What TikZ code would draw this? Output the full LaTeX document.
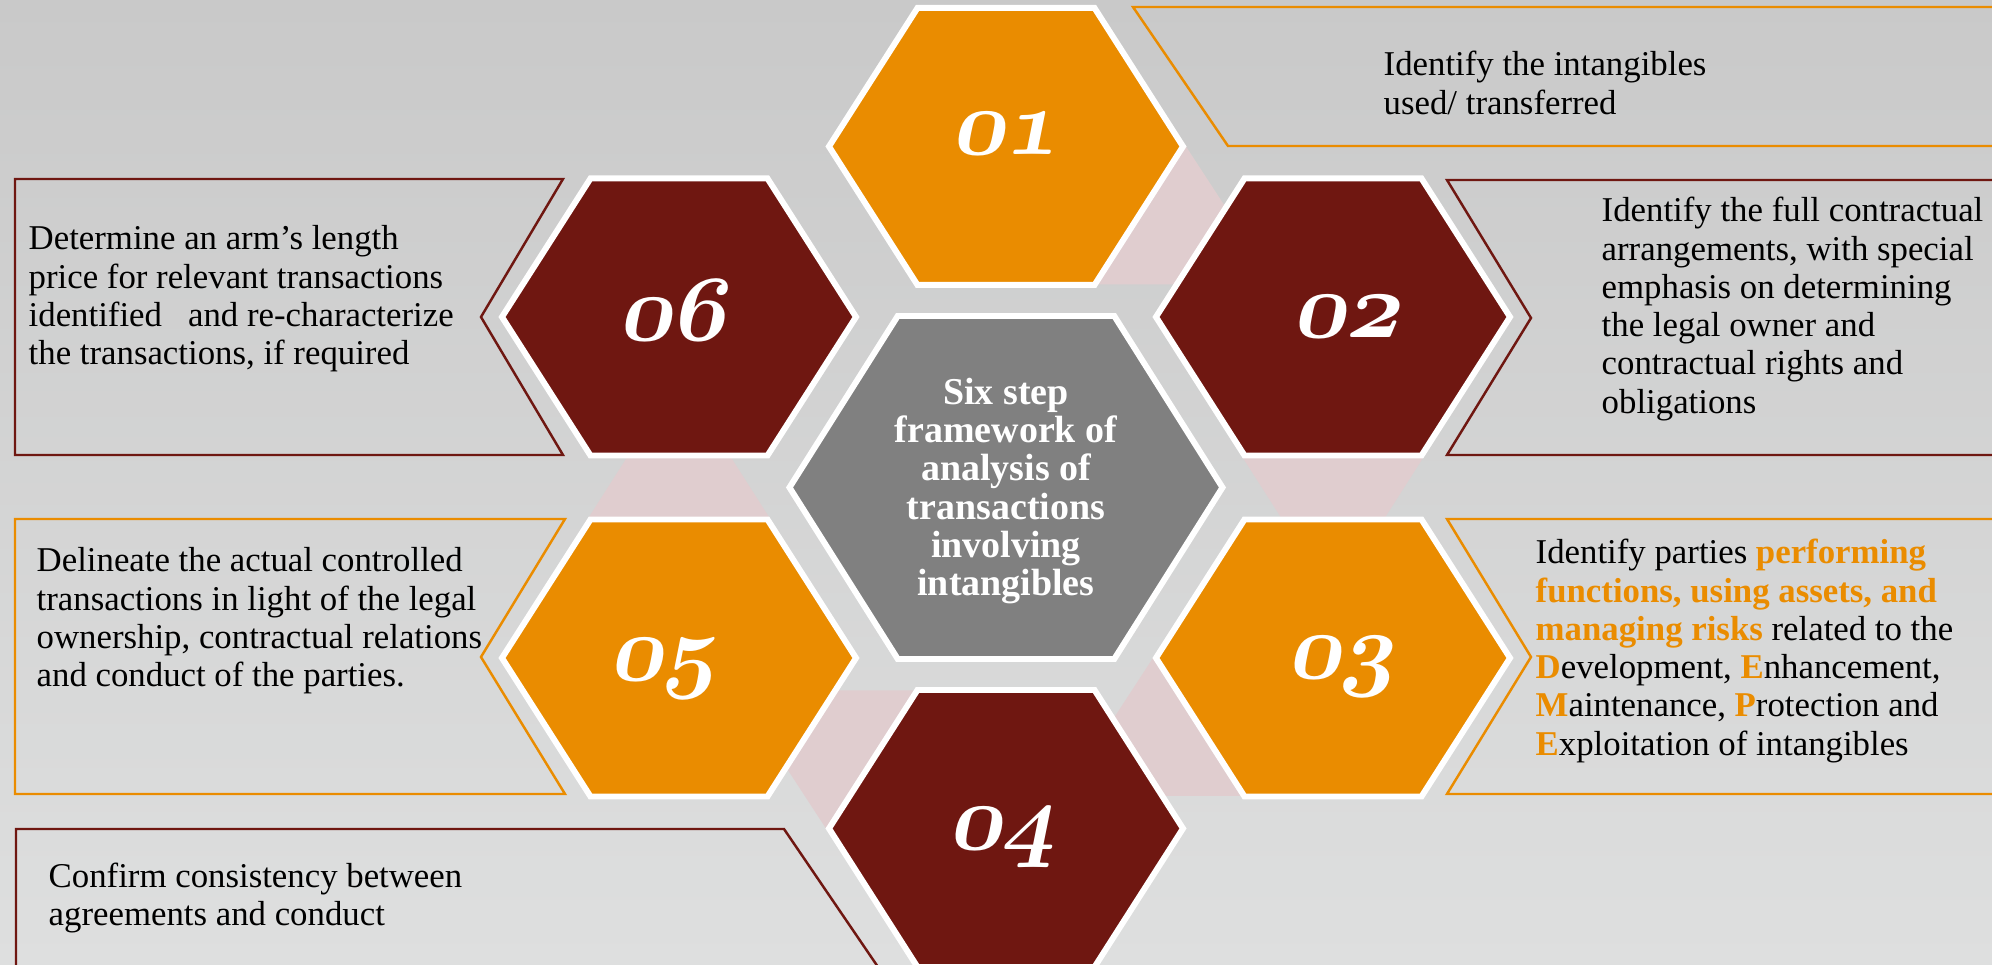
\documentclass[tikz,border=0pt]{standalone}
\usepackage{fontspec}
\setmainfont{Liberation Serif}
\usepackage{tikz}
\usetikzlibrary{arrows.meta}
\definecolor{hexorange}{RGB}{234,140,0}
\definecolor{hexred}{RGB}{111,23,17}
\definecolor{hexgray}{RGB}{128,128,128}
\definecolor{linkpink}{RGB}{224,205,207}
\definecolor{bgtop}{RGB}{201,201,201}
\definecolor{bgbottom}{RGB}{222,223,223}
\tikzset{
  hexcell/.style={draw=white, line width=1.7pt},
  hexnum/.style={text=white, inner sep=0pt, text height=0.39cm, text depth=0pt, xslant=0.2, scale=1.07,
    font={\fontsize{24.88}{26}\usefont{OML}{cmm}{b}{it}}},
  callout/.style={line width=0.7pt},
  calltext/.style={anchor=west, align=left, inner sep=0pt, font={\fontsize{9.9}{10.9}\selectfont}},
}

\begin{document}
\begin{tikzpicture}

  \newcommand\X{3.27cm};
  \newcommand\Y{1.705cm};
  \newcommand\cellw{1.77cm};
  \newcommand\cellh{1.385cm};
  \newcommand\hexpath[3]{(#1) ++(-#2,0) -- ++(0.5*#2,#3) -- ++(#2,0) -- ++(0.5*#2,-#3) -- ++(-0.5*#2,-#3) -- ++(-#2,0) -- cycle}
  \newcommand\hot[1]{\textcolor{hexorange}{\textbf{#1}}}

  \useasboundingbox (-10.06,-4.775) rectangle (9.86,4.875);
  \fill[top color=bgtop, bottom color=bgbottom] (-10.06,-4.775) rectangle (9.86,4.875);
  \clip (-10.06,-4.775) rectangle (9.86,4.875);

  \coordinate (c0) at (0, 0);
  \coordinate (c1) at (0, 2*\Y);
  \coordinate (c2) at (\X, \Y);
  \coordinate (c3) at (\X, -\Y);
  \coordinate (c4) at (0, -2*\Y);
  \coordinate (c5) at (-\X, -\Y);
  \coordinate (c6) at (-\X, \Y);

  %% pink links behind the cells
  \fill[linkpink] (c1) ++(1.8,0) -- ++(0.9,-1.38) -- ++(-1.8,0) -- cycle; % 1->2
  \fill[linkpink] (c2) ++(-0.9,-1.41) -- ++(1.8,0) -- ++(-0.9,-1.41) -- cycle; % 2->3
  \fill[linkpink] (c3) ++(-1.8,0) -- ++(0.9,-1.38) -- ++(-1.8,0) -- cycle; % 3->4
  \fill[linkpink] (c4) ++(-1.8,0) -- ++(0.9,1.38) -- ++(-1.8,0) -- cycle; % 4->5
  \fill[linkpink] (c5) ++(-0.9,1.41) -- ++(1.8,0) -- ++(-0.9,1.41) -- cycle; % 5->6

  %% cells
  \draw[hexcell, fill=hexgray] \hexpath{c0}{2.165cm}{1.715cm};
  \draw[hexcell, fill=hexorange] \hexpath{c1}{\cellw}{\cellh};
  \draw[hexcell, fill=hexred] \hexpath{c2}{\cellw}{\cellh};
  \draw[hexcell, fill=hexorange] \hexpath{c3}{\cellw}{\cellh};
  \draw[hexcell, fill=hexred] \hexpath{c4}{\cellw}{\cellh};
  \draw[hexcell, fill=hexorange] \hexpath{c5}{\cellw}{\cellh};
  \draw[hexcell, fill=hexred] \hexpath{c6}{\cellw}{\cellh};

  \node[hexnum] (n1) at ([xshift=0.3mm, yshift=1.25mm]c1) {01};
  \node[hexnum] (n2) at ([xshift=1.7mm]c2) {02};
  \node[hexnum] (n3) at ([xshift=1.2mm]c3) {03};
  \node[hexnum] (n4) at (c4) {04};
  \node[hexnum] (n5) at ([xshift=-1.2mm, yshift=-0.2mm]c5) {05};
  \node[hexnum] (n6) at ([xshift=-0.3mm, yshift=-0.3mm]c6) {06};

  \node[text=white, align=center, font={\fontsize{10.8}{10.9}\selectfont\bfseries}] (core) at ([yshift=-0.35mm]c0)
    {Six step\\framework of\\analysis of\\transactions\\involving\\intangibles};

  %% right column
  \draw[callout, draw=hexorange] (10.2,4.805) -- (1.27,4.805) -- (2.22,3.415) -- (10.2,3.415);
  \draw[callout, draw=hexred] (10.2,3.075) -- (4.41,3.075) -- (5.25,1.695) -- (4.41,0.325) -- (10.2,0.325);
  \draw[callout, draw=hexorange] (10.2,-0.315) -- (4.41,-0.315) -- (5.25,-1.695) -- (4.41,-3.065) -- (10.2,-3.065);

  %% left column
  \draw[callout, draw=hexred] (-9.91,3.085) -- (-4.43,3.085) -- (-5.25,1.705) -- (-4.43,0.325) -- (-9.91,0.325) -- cycle;
  \draw[callout, draw=hexorange] (-9.91,-0.315) -- (-4.41,-0.315) -- (-5.25,-1.695) -- (-4.41,-3.065) -- (-9.91,-3.065) -- cycle;
  \draw[callout, draw=hexred] (-9.90,-5) -- (-9.90,-3.415) -- (-2.22,-3.415) -- (-1.14,-5);

  \node[calltext] (t1) at (3.77,4.045) {Identify the intangibles\\used/ transferred};
  \node[calltext] (t2) at (5.95,1.785) {Identify the full contractual\\arrangements, with special\\emphasis on determining\\the legal owner and\\contractual rights and\\obligations};
  \node[calltext] (t3) at (5.29,-1.635) {Identify parties \hot{performing}\\\hot{functions, using assets, and}\\\hot{managing risks} related to the\\\hot{D}evelopment, \hot{E}nhancement,\\\hot{M}aintenance, \hot{P}rotection and\\\hot{E}xploitation of intangibles};
  \node[calltext] (t4) at (-9.58,-4.105) {Confirm consistency between\\agreements and conduct};
  \node[calltext] (t5) at (-9.70,-1.335) {Delineate the actual controlled\\transactions in light of the legal\\ownership, contractual relations\\and conduct of the parties.};
  \node[calltext] (t6) at (-9.78,1.885) {Determine an arm’s length\\price for relevant transactions\\identified\ \ \ and re-characterize\\the transactions, if required};

\end{tikzpicture}
\end{document}
